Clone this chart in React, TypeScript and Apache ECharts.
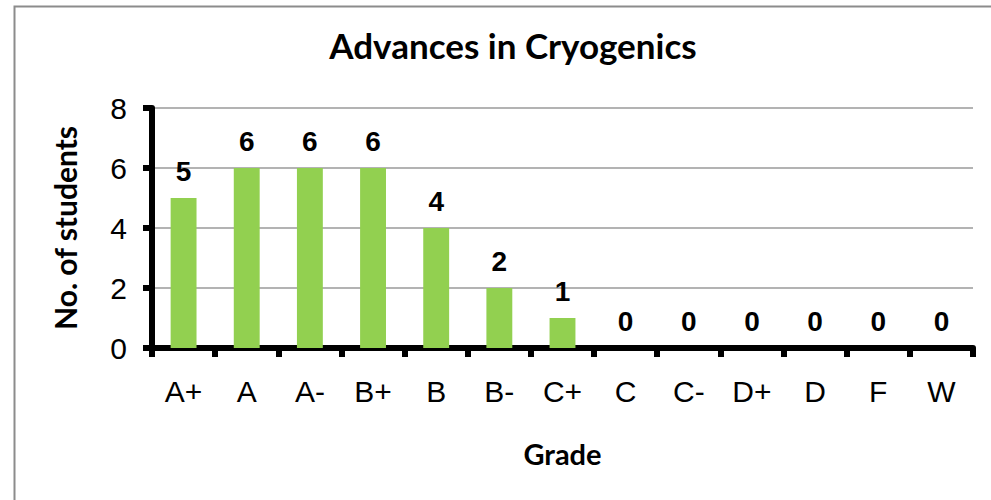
import React, { useEffect, useRef } from "react";
import * as echarts from "echarts";

const grades = ["A+", "A", "A-", "B+", "B", "B-", "C+", "C", "C-", "D+", "D", "F", "W"];
const students = [5, 6, 6, 6, 4, 2, 1, 0, 0, 0, 0, 0, 0];
const yTicks = { min: 0, max: 8, interval: 2 };

export default function App() {
  const ref = useRef<HTMLDivElement>(null);
  useEffect(() => {
    const chart = echarts.init(ref.current!, undefined, { renderer: "svg" });
    chart.setOption({
      animation: false,
      backgroundColor: "#ffffff",
      graphic: [
        {
          type: "rect",
          shape: { x: 14.5, y: 6.5, width: 1000, height: 600 },
          style: { fill: "none", stroke: "#8c8c8c", lineWidth: 2 },
          silent: true,
          z: -10,
        },
      ],
      title: {
        text: "Advances in Cryogenics",
        left: 508,
        top: 22,
        textAlign: "center",
        textStyle: { fontFamily: "Lato, 'Open Sans', sans-serif", fontWeight: "bold", fontSize: 35, color: "#000" },
      },
      grid: { left: 152, top: 108, right: 18, bottom: 152, containLabel: false },
      xAxis: {
        type: "category",
        data: grades,
        name: "Grade",
        nameLocation: "middle",
        nameGap: 91,
        nameTextStyle: { fontFamily: "Lato, 'Open Sans', sans-serif", fontWeight: "bold", fontSize: 29, color: "#000" },
        axisLine: { show: true, lineStyle: { color: "#000", width: 6 } },
        axisTick: { show: true, alignWithLabel: false, length: 9, lineStyle: { color: "#000", width: 6 } },
        axisLabel: { fontFamily: "'Liberation Sans', Arial, sans-serif", fontSize: 30, color: "#000", margin: 28 },
        splitLine: { show: false },
      },
      yAxis: {
        type: "value",
        min: yTicks.min,
        max: yTicks.max,
        interval: yTicks.interval,
        name: "No. of students",
        nameLocation: "middle",
        nameGap: 72,
        nameTextStyle: { fontFamily: "Lato, 'Open Sans', sans-serif", fontWeight: "bold", fontSize: 30, color: "#000" },
        axisLine: { show: true, lineStyle: { color: "#000", width: 6 } },
        axisTick: { show: true, length: 9, lineStyle: { color: "#000", width: 6 } },
        axisLabel: { fontFamily: "'Liberation Sans', Arial, sans-serif", fontSize: 30, color: "#000", margin: 25 },
        splitLine: { show: true, lineStyle: { color: "#9a9a9a", width: 1.5 } },
      },
      series: [
        {
          type: "bar",
          data: students,
          barWidth: "41%",
          itemStyle: { color: "#92D050" },
          label: {
            show: true,
            position: "top",
            distance: 13,
            fontFamily: "'Liberation Sans', Arial, sans-serif",
            fontWeight: "bold",
            fontSize: 28,
            color: "#000",
          },
        },
      ],
    });
    return () => chart.dispose();
  }, []);
  return <div ref={ref} style={{ width: 991, height: 500, position: "absolute", left: 0, top: 0 }} />;
}
